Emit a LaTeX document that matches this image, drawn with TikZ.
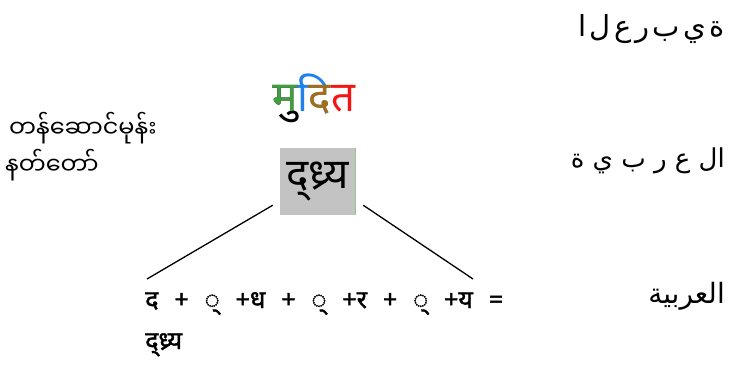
\documentclass[tikz,border=0pt]{standalone}
\usepackage{fontspec}
\usepackage{xcolor}
\usetikzlibrary{positioning, calc}
\TeXXeTstate=1
\newfontfamily\arabicfont[Script=Arabic]{DejaVu Sans}
\newfontfamily\devafont[Script=Devanagari]{Noto Sans}
\newfontfamily\devabold[Script=Devanagari, FakeBold=1.6]{Noto Sans}
\newfontfamily\burmesefont[Script=Myanmar]{Noto Sans Myanmar UI}
\definecolor{mgreen}{RGB}{64,158,64}
\definecolor{mblue}{RGB}{30,130,235}
\definecolor{mbrown}{RGB}{165,110,20}
\definecolor{mred}{RGB}{245,20,20}
\definecolor{ligagray}{RGB}{195,195,195}
\definecolor{ligaedge}{RGB}{150,200,140}

% each letter of the word in its own colour
\newcommand\muditword{%
  \setbox0=\hbox{दि}\setbox2=\hbox{द}%
  \rlap{मु}{\color{mgreen}म}%
  \rlap{\color{mblue}दि}\kern\dimexpr\wd0-\wd2\relax{\color{mbrown}द}%
  {\color{mred}त}}
% isolated letter forms, kept apart
\newcommand\isol[1]{\hbox{#1}\kern3.5pt}
\newcommand\sumfont{\devabold\fontsize{25}{30}\selectfont\spaceskip=16pt\relax}

\begin{document}
\begin{tikzpicture}[
    x=1pt, y=-1pt,
    arabic/.style={font=\arabicfont\fontsize{26}{30}\selectfont, inner sep=0pt, anchor=base east},
    burmese/.style={font=\burmesefont\fontsize{24}{28}\selectfont, inner sep=0pt, anchor=base west},
    deva/.style={font=\devafont\fontsize{42}{46}\selectfont, inner sep=0pt},
    liga/.style={fill=ligagray, minimum width=75pt, minimum height=67pt, inner sep=0pt,
        font=\devafont\fontsize{42}{46}\selectfont},
    sum/.style={font=\sumfont, inner sep=0pt, anchor=base west},
    stroke/.style={line width=1.3pt}
]
\useasboundingbox (0,0) rectangle (729,369);

\node[arabic, font=\arabicfont\fontsize{29}{32}\selectfont] (rawar) at (725,37)
    {\isol{ﺍ}\isol{ﻝ}\isol{ﻉ}\isol{ﺭ}\isol{ﺏ}\isol{ﻱ}\hbox{ﺓ}};
\node[arabic] (isoar) at (725,167) {\beginR ال ع ر ب ي ة\endR};
\node[arabic, font=\arabicfont\fontsize{28}{32}\selectfont] (joinar) at (725,303) {\beginR العربية\endR};

\node[burmese] (monthA) at (9,138) {တန်ဆောင်မုန်း};
\node[burmese] (monthB) at (5,175) {နတ်တော်};

\node[deva, anchor=base] (mudit) at (314,112) {\muditword};

\node[liga] (liga) at (317.5,181.5) {द्ध्र्य};
\draw[ligaedge] (liga.north east) -- (liga.south east);

\node[sum] (sumA) at (145,308) {द + ् +ध + ् +र + ् +य =};
\node[sum] (sumB) at (145,349) {द्ध्र्य};

\coordinate (lfoot) at (147,279);
\coordinate (rfoot) at (473,279);
\draw[stroke] ($(liga.south west)+(-7,-10)$) -- (lfoot);
\draw[stroke] ($(liga.south east)+(8,-10)$) -- (rfoot);

\end{tikzpicture}
\end{document}
